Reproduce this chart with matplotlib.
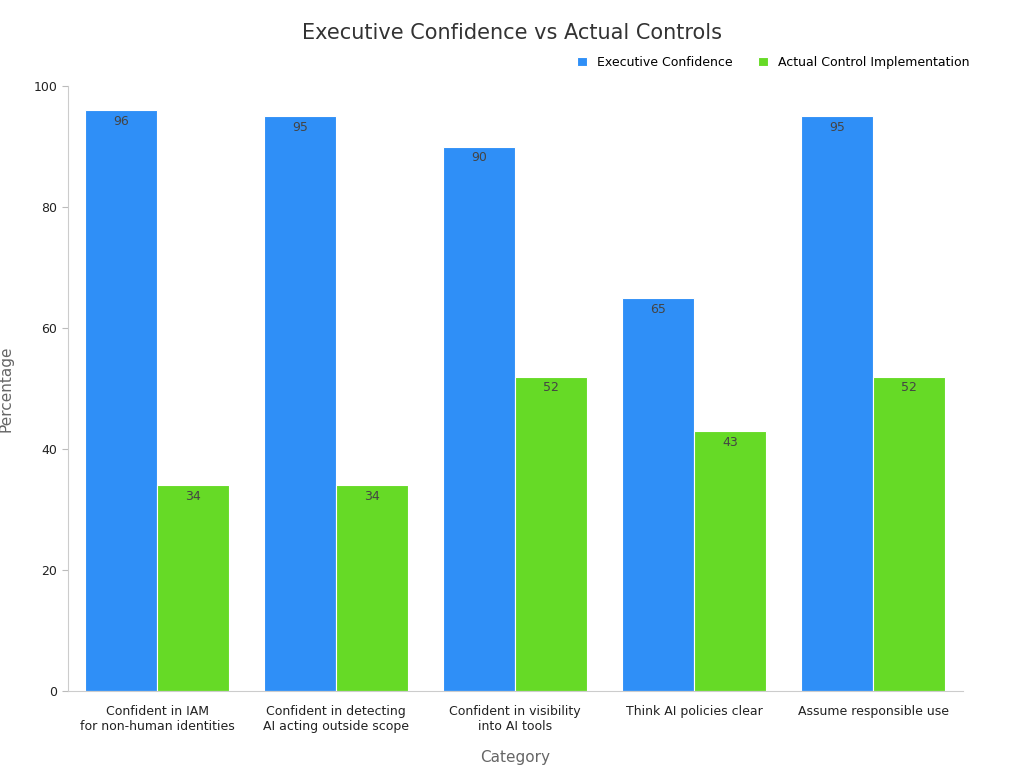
import matplotlib.pyplot as plt
import numpy as np

plt.rcParams['font.family'] = ['DejaVu Sans']

categories = ['Confident in IAM\nfor non-human identities',
              'Confident in detecting\nAI acting outside scope',
              'Confident in visibility\ninto AI tools',
              'Think AI policies clear',
              'Assume responsible use']
executive = [96, 95, 90, 65, 95]
actual = [34, 34, 52, 43, 52]

blue = '#2F8FF7'
green = '#66DA26'

fig = plt.figure(figsize=(10.24, 7.68), dpi=100)
ax = fig.add_axes([0.066, 0.100, 0.874, 0.788])

x = np.arange(len(categories))
w = 0.4
b1 = ax.bar(x - w / 2, executive, w, color=blue, edgecolor='white', linewidth=0.8,
            label='Executive Confidence')
b2 = ax.bar(x + w / 2, actual, w, color=green, edgecolor='white', linewidth=0.8,
            label='Actual Control Implementation')

for bars in (b1, b2):
    for rect in bars:
        h = rect.get_height()
        ax.text(rect.get_x() + rect.get_width() / 2, h - 0.8, f'{h:g}',
                ha='center', va='top', fontsize=9, color='#444444')

ax.set_xlim(-0.5, 4.5)
ax.set_ylim(0, 100)
ax.set_yticks([0, 20, 40, 60, 80, 100])
ax.set_xticks(x)
ax.set_xticklabels(categories, fontsize=9, color='#222222')
ax.tick_params(axis='y', labelsize=9, colors='#222222', length=4, color='#bbbbbb')
ax.tick_params(axis='x', length=0, pad=10)
for s in ('top', 'right'):
    ax.spines[s].set_visible(False)
for s in ('left', 'bottom'):
    ax.spines[s].set_color('#cccccc')

ax.set_xlabel('Category', fontsize=11, color='#666666', labelpad=12)
ax.set_ylabel('Percentage', fontsize=11, color='#666666', labelpad=14)

fig.text(0.5, 0.957, 'Executive Confidence vs Actual Controls', ha='center', va='center',
         fontsize=15, color='#333333')
ax.legend(loc='lower right', bbox_to_anchor=(1.02, 1.01), ncol=2, frameon=False,
          fontsize=9, handlelength=0.8, handleheight=0.8, columnspacing=2.0)

fig.savefig('out.png', dpi=100)
